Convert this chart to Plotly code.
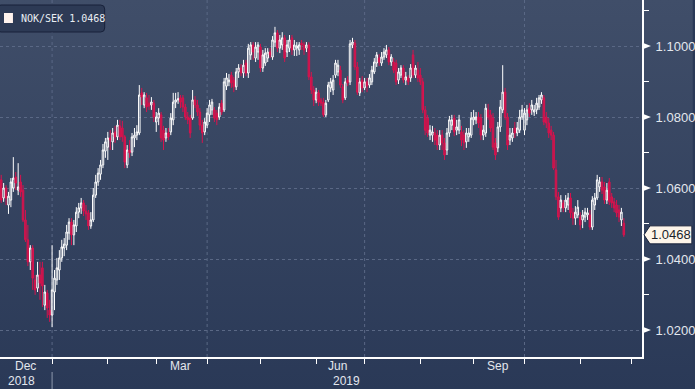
import base64
import pandas as pd
import plotly.graph_objects as go

# ---------------- data (NOK/SEK daily OHLC, Dec 2018 - Nov 2019) ----------------
opens = [
    1.0623, 1.0572, 1.0600, 1.0552, 1.0566, 1.0600, 1.0631, 1.0594, 1.0617, 1.0594, 1.0510, 1.0454, 1.0392, 1.0431, 1.0341, 1.0318, 1.0355, 1.0375, 1.0270, 1.0304, 1.0256,
    1.0242, 1.0307, 1.0341, 1.0369, 1.0403, 1.0431, 1.0439, 1.0473, 1.0504, 1.0468, 1.0493, 1.0532, 1.0544, 1.0558, 1.0535, 1.0530, 1.0493, 1.0510, 1.0580, 1.0617, 1.0639, 1.0665, 1.0704,
    1.0715, 1.0741, 1.0730, 1.0758, 1.0744, 1.0775, 1.0769, 1.0744, 1.0665, 1.0707, 1.0701, 1.0741, 1.0749, 1.0755, 1.0868, 1.0834, 1.0854, 1.0839, 1.0834, 1.0839,
    1.0786, 1.0797, 1.0806, 1.0763, 1.0741, 1.0755, 1.0758, 1.0792, 1.0842, 1.0848, 1.0854, 1.0854, 1.0828, 1.0800, 1.0797, 1.0797, 1.0848, 1.0834, 1.0814, 1.0777, 1.0758,
    1.0777, 1.0806, 1.0820, 1.0820, 1.0811, 1.0800, 1.0839, 1.0820, 1.0887, 1.0899, 1.0918, 1.0904, 1.0885, 1.0927, 1.0938, 1.0924, 1.0952, 1.0924, 1.0975, 1.1003, 1.0966, 1.0983,
    1.0997, 1.0938, 1.0952, 1.0966, 1.0983, 1.0969, 1.1011, 1.1037, 1.0994, 1.1003, 1.1023, 1.0983, 1.0994, 1.1023, 1.0989, 1.0994, 1.0989, 1.1008, 1.1003, 1.0994, 1.1003, 1.0913, 1.0876,
    1.0848, 1.0868, 1.0848, 1.0842, 1.0806, 1.0848, 1.0882, 1.0876, 1.0918, 1.0927, 1.0932, 1.0885, 1.0854, 1.0904, 1.0899, 1.1003, 1.1008, 1.0941, 1.0868, 1.0904,
    1.0882, 1.0899, 1.0890, 1.0899, 1.0927, 1.0952, 1.0966, 1.0952, 1.0969, 1.0975, 1.0989, 1.0955, 1.0955, 1.0952, 1.0904, 1.0918, 1.0938, 1.0904, 1.0910, 1.0910, 1.0975, 1.0918, 1.0932,
    1.0918, 1.0899, 1.0820, 1.0797, 1.0749, 1.0749, 1.0755, 1.0749, 1.0721, 1.0749, 1.0727, 1.0707, 1.0755, 1.0777, 1.0797, 1.0763, 1.0763, 1.0758, 1.0749, 1.0730, 1.0744, 1.0749,
    1.0792, 1.0792, 1.0800, 1.0797, 1.0749, 1.0755, 1.0820, 1.0806, 1.0797, 1.0727, 1.0713, 1.0772, 1.0820, 1.0870, 1.0800, 1.0735, 1.0741, 1.0769, 1.0755, 1.0763, 1.0800,
    1.0763, 1.0792, 1.0825, 1.0820, 1.0814, 1.0820, 1.0828, 1.0848, 1.0854, 1.0800, 1.0783, 1.0763, 1.0749, 1.0651, 1.0575, 1.0544, 1.0558, 1.0544, 1.0552, 1.0572, 1.0530, 1.0515, 1.0524,
    1.0518, 1.0510, 1.0518, 1.0524, 1.0524, 1.0490, 1.0552, 1.0572, 1.0603, 1.0617, 1.0603, 1.0566, 1.0617, 1.0575, 1.0561, 1.0552, 1.0538, 1.0510, 1.0501,
]
highs = [
    1.0637, 1.0614, 1.0608, 1.0589, 1.0628, 1.0687, 1.0645, 1.0670, 1.0637, 1.0608, 1.0538, 1.0496, 1.0439, 1.0439, 1.0355, 1.0392, 1.0392, 1.0392, 1.0327, 1.0313, 1.0285,
    1.0439, 1.0369, 1.0403, 1.0425, 1.0454, 1.0459, 1.0496, 1.0515, 1.0515, 1.0510, 1.0546, 1.0558, 1.0572, 1.0566, 1.0552, 1.0538, 1.0532, 1.0600, 1.0637, 1.0656, 1.0679, 1.0724, 1.0741,
    1.0758, 1.0763, 1.0769, 1.0775, 1.0792, 1.0792, 1.0789, 1.0749, 1.0721, 1.0735, 1.0755, 1.0769, 1.0777, 1.0890, 1.0882, 1.0870, 1.0868, 1.0862, 1.0856, 1.0848,
    1.0814, 1.0825, 1.0814, 1.0775, 1.0769, 1.0769, 1.0811, 1.0868, 1.0868, 1.0870, 1.0862, 1.0862, 1.0837, 1.0814, 1.0806, 1.0876, 1.0859, 1.0848, 1.0825, 1.0792, 1.0797,
    1.0825, 1.0848, 1.0851, 1.0828, 1.0820, 1.0839, 1.0848, 1.0910, 1.0924, 1.0921, 1.0927, 1.0913, 1.0938, 1.0949, 1.0949, 1.0961, 1.0961, 1.1006, 1.1011, 1.1011, 1.1011, 1.1011,
    1.1006, 1.0989, 1.0994, 1.0994, 1.0994, 1.1028, 1.1054, 1.1045, 1.1031, 1.1039, 1.1031, 1.1017, 1.1031, 1.1031, 1.1017, 1.1011, 1.1011, 1.1017, 1.1011, 1.1011, 1.1011, 1.0927, 1.0887,
    1.0882, 1.0876, 1.0854, 1.0854, 1.0848, 1.0899, 1.0910, 1.0918, 1.0961, 1.0961, 1.0944, 1.0893, 1.0910, 1.0915, 1.1017, 1.1023, 1.1017, 1.0955, 1.0910, 1.0915,
    1.0910, 1.0910, 1.0921, 1.0944, 1.0966, 1.0983, 1.0977, 1.0983, 1.0994, 1.1003, 1.0997, 1.0977, 1.0966, 1.0961, 1.0938, 1.0946, 1.0946, 1.0927, 1.0918, 1.0949, 1.0989, 1.0946, 1.0955,
    1.0938, 1.0910, 1.0831, 1.0806, 1.0777, 1.0775, 1.0769, 1.0763, 1.0763, 1.0763, 1.0741, 1.0769, 1.0803, 1.0806, 1.0806, 1.0792, 1.0806, 1.0775, 1.0763, 1.0769, 1.0769, 1.0814,
    1.0820, 1.0814, 1.0814, 1.0808, 1.0777, 1.0837, 1.0837, 1.0820, 1.0811, 1.0741, 1.0786, 1.0848, 1.0946, 1.0882, 1.0811, 1.0769, 1.0769, 1.0786, 1.0786, 1.0820, 1.0834,
    1.0825, 1.0834, 1.0839, 1.0848, 1.0834, 1.0854, 1.0862, 1.0870, 1.0862, 1.0814, 1.0797, 1.0775, 1.0758, 1.0679, 1.0589, 1.0580, 1.0566, 1.0580, 1.0586, 1.0586, 1.0544, 1.0549, 1.0566,
    1.0532, 1.0538, 1.0544, 1.0544, 1.0538, 1.0577, 1.0586, 1.0637, 1.0631, 1.0631, 1.0617, 1.0614, 1.0628, 1.0586, 1.0572, 1.0566, 1.0552, 1.0544, 1.0515,
]
lows = [
    1.0558, 1.0561, 1.0552, 1.0527, 1.0546, 1.0589, 1.0594, 1.0580, 1.0575, 1.0504, 1.0448, 1.0380, 1.0369, 1.0313, 1.0299, 1.0307, 1.0285, 1.0265, 1.0256, 1.0234, 1.0223,
    1.0208, 1.0256, 1.0327, 1.0341, 1.0392, 1.0408, 1.0425, 1.0454, 1.0439, 1.0439, 1.0476, 1.0515, 1.0527, 1.0521, 1.0510, 1.0482, 1.0485, 1.0504, 1.0572, 1.0606, 1.0623, 1.0656, 1.0685,
    1.0679, 1.0707, 1.0707, 1.0727, 1.0735, 1.0735, 1.0730, 1.0656, 1.0656, 1.0685, 1.0690, 1.0715, 1.0735, 1.0749, 1.0834, 1.0825, 1.0814, 1.0820, 1.0820, 1.0786,
    1.0758, 1.0777, 1.0730, 1.0707, 1.0730, 1.0735, 1.0749, 1.0777, 1.0825, 1.0837, 1.0825, 1.0814, 1.0792, 1.0780, 1.0741, 1.0792, 1.0825, 1.0803, 1.0763, 1.0727, 1.0749,
    1.0769, 1.0786, 1.0806, 1.0786, 1.0777, 1.0792, 1.0806, 1.0814, 1.0876, 1.0887, 1.0882, 1.0870, 1.0876, 1.0910, 1.0915, 1.0910, 1.0915, 1.0910, 1.0961, 1.0961, 1.0955, 1.0961,
    1.0927, 1.0927, 1.0944, 1.0955, 1.0966, 1.0961, 1.0997, 1.0983, 1.0980, 1.0989, 1.0955, 1.0969, 1.0983, 1.0975, 1.0972, 1.0972, 1.0975, 1.0989, 1.0975, 1.0983, 1.0904, 1.0865, 1.0831,
    1.0839, 1.0831, 1.0831, 1.0800, 1.0800, 1.0842, 1.0870, 1.0862, 1.0910, 1.0915, 1.0882, 1.0839, 1.0848, 1.0887, 1.0890, 1.0994, 1.0932, 1.0862, 1.0859, 1.0870,
    1.0876, 1.0870, 1.0882, 1.0890, 1.0921, 1.0941, 1.0944, 1.0944, 1.0961, 1.0966, 1.0946, 1.0944, 1.0924, 1.0890, 1.0893, 1.0910, 1.0896, 1.0890, 1.0890, 1.0899, 1.0910, 1.0910, 1.0899,
    1.0890, 1.0811, 1.0749, 1.0744, 1.0735, 1.0730, 1.0721, 1.0707, 1.0707, 1.0707, 1.0679, 1.0693, 1.0744, 1.0763, 1.0746, 1.0749, 1.0752, 1.0718, 1.0707, 1.0713, 1.0730, 1.0741,
    1.0777, 1.0780, 1.0769, 1.0735, 1.0735, 1.0744, 1.0792, 1.0758, 1.0707, 1.0679, 1.0701, 1.0758, 1.0811, 1.0792, 1.0707, 1.0721, 1.0730, 1.0741, 1.0746, 1.0755, 1.0792,
    1.0749, 1.0777, 1.0800, 1.0806, 1.0803, 1.0808, 1.0820, 1.0837, 1.0777, 1.0769, 1.0741, 1.0735, 1.0651, 1.0566, 1.0510, 1.0532, 1.0532, 1.0532, 1.0538, 1.0515, 1.0496, 1.0496, 1.0515,
    1.0482, 1.0487, 1.0504, 1.0510, 1.0482, 1.0482, 1.0538, 1.0566, 1.0589, 1.0583, 1.0555, 1.0555, 1.0552, 1.0544, 1.0532, 1.0518, 1.0504, 1.0493, 1.0462,
]
closes = [
    1.0566, 1.0600, 1.0572, 1.0577, 1.0617, 1.0628, 1.0614, 1.0603, 1.0589, 1.0510, 1.0454, 1.0392, 1.0431, 1.0346, 1.0313, 1.0355, 1.0332, 1.0324, 1.0307, 1.0262, 1.0242,
    1.0313, 1.0346, 1.0375, 1.0403, 1.0434, 1.0442, 1.0476, 1.0504, 1.0468, 1.0496, 1.0532, 1.0544, 1.0558, 1.0535, 1.0527, 1.0493, 1.0510, 1.0580, 1.0617, 1.0642, 1.0665, 1.0707, 1.0730,
    1.0741, 1.0735, 1.0755, 1.0744, 1.0777, 1.0744, 1.0744, 1.0673, 1.0707, 1.0699, 1.0744, 1.0749, 1.0758, 1.0862, 1.0856, 1.0862, 1.0828, 1.0831, 1.0842, 1.0800,
    1.0800, 1.0811, 1.0741, 1.0735, 1.0755, 1.0744, 1.0797, 1.0842, 1.0848, 1.0851, 1.0842, 1.0828, 1.0800, 1.0792, 1.0755, 1.0848, 1.0834, 1.0814, 1.0777, 1.0755, 1.0786,
    1.0811, 1.0834, 1.0842, 1.0797, 1.0792, 1.0828, 1.0814, 1.0899, 1.0910, 1.0904, 1.0896, 1.0885, 1.0927, 1.0938, 1.0924, 1.0946, 1.0924, 1.0994, 1.1003, 1.0983, 1.0997, 1.1003,
    1.0938, 1.0975, 1.0980, 1.0983, 1.0975, 1.1017, 1.1037, 1.0994, 1.1017, 1.1023, 1.0966, 1.1003, 1.1017, 1.0989, 1.1003, 1.1000, 1.1003, 1.1003, 1.0989, 1.1003, 1.0913, 1.0876, 1.0848,
    1.0870, 1.0842, 1.0839, 1.0806, 1.0839, 1.0890, 1.0899, 1.0904, 1.0952, 1.0946, 1.0890, 1.0848, 1.0899, 1.0896, 1.1006, 1.1011, 1.0941, 1.0870, 1.0899, 1.0882,
    1.0899, 1.0887, 1.0910, 1.0932, 1.0955, 1.0975, 1.0955, 1.0969, 1.0983, 1.0989, 1.0955, 1.0969, 1.0932, 1.0899, 1.0927, 1.0938, 1.0904, 1.0913, 1.0899, 1.0938, 1.0918, 1.0938, 1.0910,
    1.0899, 1.0820, 1.0763, 1.0755, 1.0763, 1.0758, 1.0735, 1.0721, 1.0749, 1.0727, 1.0693, 1.0755, 1.0792, 1.0792, 1.0758, 1.0772, 1.0792, 1.0735, 1.0727, 1.0755, 1.0755, 1.0797,
    1.0800, 1.0800, 1.0783, 1.0749, 1.0763, 1.0825, 1.0800, 1.0769, 1.0715, 1.0693, 1.0772, 1.0828, 1.0870, 1.0800, 1.0721, 1.0749, 1.0755, 1.0755, 1.0769, 1.0800, 1.0820,
    1.0811, 1.0820, 1.0811, 1.0834, 1.0820, 1.0839, 1.0854, 1.0862, 1.0786, 1.0783, 1.0755, 1.0749, 1.0656, 1.0575, 1.0518, 1.0566, 1.0544, 1.0566, 1.0572, 1.0530, 1.0515, 1.0532, 1.0546,
    1.0496, 1.0524, 1.0532, 1.0530, 1.0490, 1.0566, 1.0572, 1.0623, 1.0617, 1.0594, 1.0566, 1.0594, 1.0561, 1.0558, 1.0544, 1.0530, 1.0518, 1.0532, 1.0468,
]
dates = pd.bdate_range("2018-12-03", periods=len(closes))

series_name = "NOK/SEK"
y_ticks = [1.02, 1.04, 1.06, 1.08, 1.10]
month_ticks = ["2019-01-01", "2019-02-01", "2019-03-01", "2019-04-01", "2019-05-01", "2019-06-03",
               "2019-07-01", "2019-08-01", "2019-09-02", "2019-10-01", "2019-11-01", "2019-12-02"]
quarter_lines = ["2019-01-01", "2019-04-01", "2019-07-01", "2019-10-01"]
month_labels = ["Dec", "Mar", "Jun", "Sep"]
month_label_dates = ["2018-12-17", "2019-03-15", "2019-06-14", "2019-09-16"]
year_labels = ["2018", "2019"]

# ---------------- layout constants ----------------
W, H = 695, 389
PL, PR, PT, PB = 0, 51, 0, 32
PW, PH = W - PL - PR, H - PT - PB
Y_RANGE = [1.012394, 1.112958]
UNIT_PER_PX = (Y_RANGE[1] - Y_RANGE[0]) / PH

def px(x):
    return x / PW

def py(y):
    return 1 - y / PH

BG_TOP, BG_BOT = "#404e69", "#2a3957"
UP_COL = "#ffffff"
DN_COL = "#d8134e"
GRID = "#5a6885"
TXT = "#e3e7ee"
FONT = "Liberation Sans, Arial, sans-serif"

fig = go.Figure()
fig.add_trace(go.Candlestick(
    x=dates, open=opens, high=highs, low=lows, close=closes,
    increasing=dict(line=dict(color=UP_COL, width=1), fillcolor="rgba(0,0,0,0)"),
    decreasing=dict(line=dict(color=DN_COL, width=1), fillcolor="#c0164c"),
    whiskerwidth=0, showlegend=False, hoverinfo="skip",
))

# gradient background
svg = ('<svg xmlns="http://www.w3.org/2000/svg" width="10" height="100" viewBox="0 0 10 100" '
       'preserveAspectRatio="none"><defs><linearGradient id="g" x1="0" y1="0" x2="0" y2="1">'
       f'<stop offset="0" stop-color="{BG_TOP}"/><stop offset="1" stop-color="{BG_BOT}"/>'
       '</linearGradient></defs><rect width="10" height="100" fill="url(#g)"/></svg>')
src = "data:image/svg+xml;base64," + base64.b64encode(svg.encode()).decode()

shapes = []
for d in quarter_lines:
    shapes.append(dict(type="line", xref="x", yref="paper", x0=d, x1=d, y0=0, y1=1,
                       line=dict(color=GRID, width=1, dash="3px,3px"), layer="below"))
shapes.append(dict(type="line", xref="x", yref="paper", x0=quarter_lines[0], x1=quarter_lines[0],
                   y0=py(372), y1=py(389), line=dict(color="#8d98ad", width=1)))
half = 3.5 * UNIT_PER_PX
for v in y_ticks:
    shapes.append(dict(type="path", xref="paper", yref="y",
                       path=f"M {px(PW)},{v-half} L {px(PW+9)},{v} L {px(PW)},{v+half} Z",
                       fillcolor="white", line=dict(width=0)))
last = closes[-1]
hh = 9 * UNIT_PER_PX
shapes.append(dict(type="path", xref="paper", yref="y",
                   path=(f"M {px(PW+2)},{last} L {px(PW+8)},{last+hh} L {px(694)},{last+hh} "
                         f"L {px(694)},{last-hh} L {px(PW+8)},{last-hh} Z"),
                   fillcolor="#fdf5ea", line=dict(color="#18223a", width=1)))
x0, x1, y0, y1, r = -3, 105, 5, 32, 4
rx, ry = r / PW, r / PH
lp = (f"M {px(x0)+rx},{py(y0)} L {px(x1)-rx},{py(y0)} Q {px(x1)},{py(y0)} {px(x1)},{py(y0)-ry} "
      f"L {px(x1)},{py(y1)+ry} Q {px(x1)},{py(y1)} {px(x1)-rx},{py(y1)} "
      f"L {px(x0)+rx},{py(y1)} Q {px(x0)},{py(y1)} {px(x0)},{py(y1)+ry} "
      f"L {px(x0)},{py(y0)-ry} Q {px(x0)},{py(y0)} {px(x0)+rx},{py(y0)} Z")
shapes.append(dict(type="path", xref="paper", yref="paper", path=lp,
                   fillcolor="#2d3a55", line=dict(color="#18213a", width=1)))
shapes.append(dict(type="rect", xref="paper", yref="paper", x0=px(4), x1=px(13), y0=py(23), y1=py(13),
                   fillcolor="#fff3ee", line=dict(width=0)))

annotations = []
annotations.append(dict(xref="paper", yref="paper", x=px(19), y=py(18.5), xanchor="left", yanchor="middle",
                        text=f"{series_name} {last:.4f}", showarrow=False,
                        font=dict(family="DejaVu Sans Mono, monospace", size=10, color="#e9edf3")))
annotations.append(dict(xref="paper", yref="y", x=px(673), y=last, xanchor="center", yanchor="middle",
                        text=f"{last:.4f}", showarrow=False,
                        font=dict(family=FONT, size=13, color="#1a1f2a")))
for lab, d in zip(month_labels, month_label_dates):
    annotations.append(dict(xref="x", yref="paper", x=d, y=py(366), xanchor="center", yanchor="middle",
                            text=lab, showarrow=False, font=dict(family=FONT, size=12, color=TXT)))
for lab, xp in zip(year_labels, [22, 348]):
    annotations.append(dict(xref="paper", yref="paper", x=px(xp), y=py(381), xanchor="center", yanchor="middle",
                            text=lab, showarrow=False, font=dict(family=FONT, size=12, color=TXT)))

fig.update_layout(
    width=W, height=H, autosize=False,
    margin=dict(l=PL, r=PR, t=PT, b=PB, pad=0),
    paper_bgcolor=BG_BOT, plot_bgcolor="rgba(0,0,0,0)",
    boxgap=0.1,
    images=[dict(source=src, xref="paper", yref="paper", x=0, y=1, sizex=W / PW, sizey=H / PH,
                 xanchor="left", yanchor="top", sizing="stretch", layer="below")],
    shapes=shapes, annotations=annotations, showlegend=False,
    xaxis=dict(
        type="date", range=["2018-11-30 12:00", "2019-12-06 12:00"],
        rangebreaks=[dict(bounds=["sat", "mon"])],
        rangeslider=dict(visible=False),
        tickmode="array", tickvals=month_ticks, ticktext=[""] * len(month_ticks),
        ticks="outside", ticklen=5, tickwidth=1, tickcolor="white",
        showline=True, linecolor="white", linewidth=2, showgrid=False, zeroline=False,
        fixedrange=True,
    ),
    yaxis=dict(
        side="right", range=Y_RANGE, tick0=1.0, dtick=0.02, tickformat=".4f",
        ticks="outside", ticklen=9, tickcolor="rgba(0,0,0,0)",
        tickfont=dict(family=FONT, size=13, color=TXT),
        showline=True, linecolor="white", linewidth=2,
        showgrid=True, gridcolor=GRID, gridwidth=1, griddash="3px,3px", zeroline=False,
        minor=dict(tick0=1.0, dtick=0.01, ticks="outside", ticklen=5, tickwidth=1,
                   tickcolor="white", showgrid=False),
        fixedrange=True,
    ),
)

fig.write_html("out.html", config={"displayModeBar": False},
               post_script="document.body.style.margin='0';document.body.style.overflow='hidden';")
